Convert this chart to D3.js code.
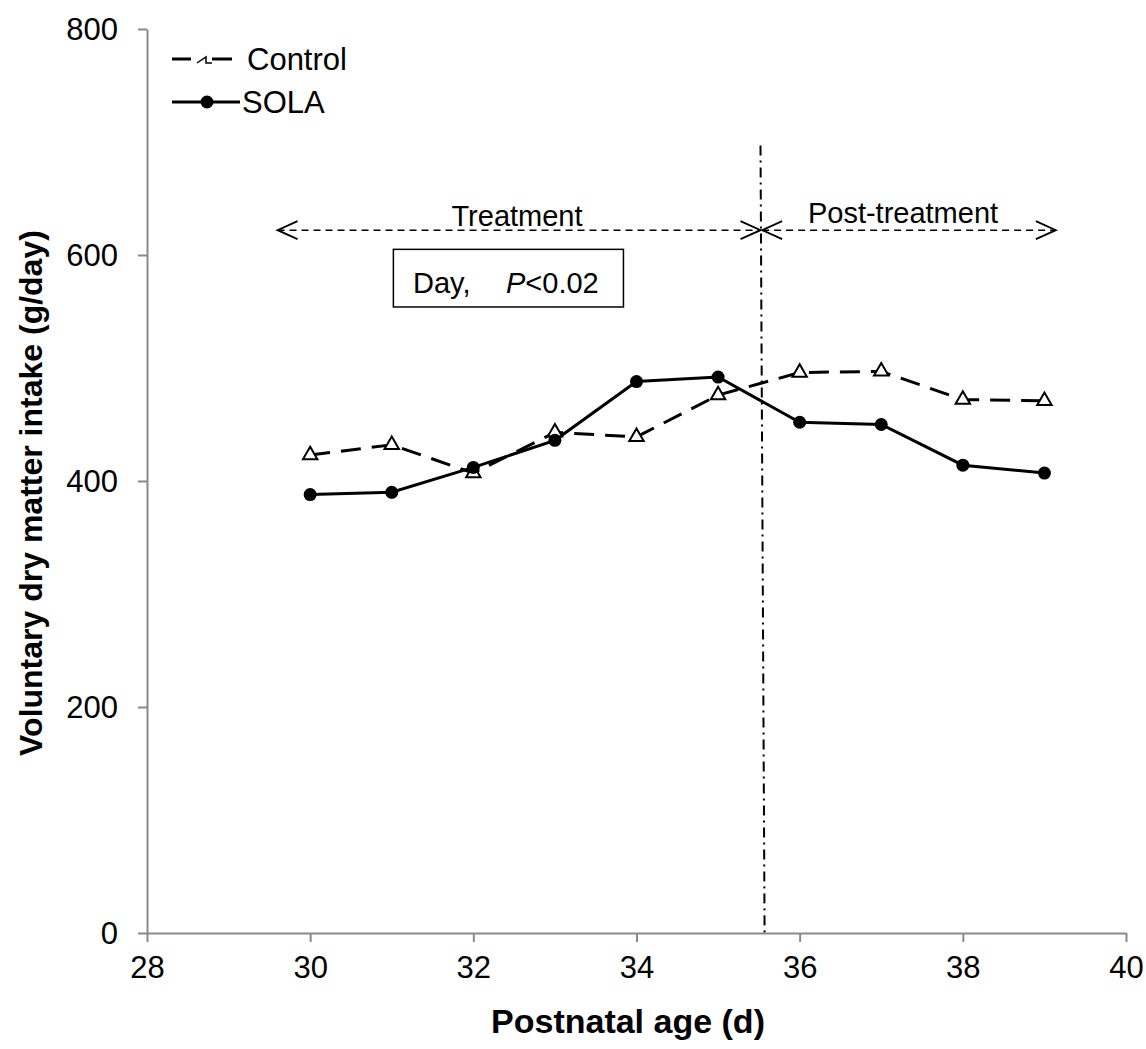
<!DOCTYPE html>
<html>
<head>
  <meta charset="utf-8">
  <script src="https://d3js.org/d3.v7.min.js"></script>
  <style>
  body { margin:0; background:#fff; }
  text { font-family: Arial, "Liberation Sans", sans-serif; fill:#000; }
  .axis path, .axis line { stroke:#898989; stroke-width:2px; }
  .axis text { font-size:31px; }
  .title { font-weight:bold; }
</style>
</head>
<body>
<script>

  // data
  var days = [30, 31, 32, 33, 34, 35, 36, 37, 38, 39];
  var control = [423, 432, 407, 443, 439, 476, 496, 497, 472, 471];
  var sola = [388, 390, 412, 436, 488, 492, 452, 450, 414, 407];
  var xTicks = [28, 30, 32, 34, 36, 38, 40];
  var yTicks = [0, 200, 400, 600, 800];

  var W = 1146, H = 1049;
  var svg = d3.select("body").append("svg")
    .attr("width", W)
    .attr("height", H);

  var x = d3.scaleLinear().domain([28, 40]).range([147, 1126]);
  var y = d3.scaleLinear().domain([0, 800]).range([933, 29]);

  var xAxis = d3.axisBottom(x).tickValues(xTicks).tickSize(9).tickSizeOuter(0).tickPadding(14);
  var yAxis = d3.axisLeft(y).tickValues(yTicks).tickSize(9).tickSizeOuter(0).tickPadding(20);

  svg.append("g")
    .attr("class", "x axis")
    .attr("transform", "translate(0," + y(0) + ")")
    .call(xAxis);

  svg.append("g")
    .attr("class", "y axis")
    .attr("transform", "translate(" + x(28) + ",0)")
    .call(yAxis)
    .selectAll("text").attr("dy", "0.35em");

  // axis titles
  svg.append("text")
    .attr("class", "title")
    .attr("x", 628).attr("y", 1033)
    .attr("text-anchor", "middle")
    .style("font-size", "34px")
    .text("Postnatal age (d)");

  svg.append("text")
    .attr("class", "title")
    .attr("transform", "translate(42,493) rotate(-90)")
    .attr("text-anchor", "middle")
    .style("font-size", "32px")
    .text("Voluntary dry matter intake (g/day)");

  // treatment boundary (dash-dot)
  svg.append("line")
    .attr("x1", x(35.52)).attr("y1", y(697))
    .attr("x2", x(35.57)).attr("y2", y(0))
    .attr("stroke", "#000").attr("stroke-width", 2)
    .attr("stroke-dasharray", "10,5,2,5");

  // period arrows
  var arrowY = y(622);
  function arrow(a, b) {
    var xa = x(a), xb = x(b);
    svg.append("line")
      .attr("x1", xa).attr("y1", arrowY).attr("x2", xb).attr("y2", arrowY)
      .attr("stroke", "#000").attr("stroke-width", 1.5)
      .attr("stroke-dasharray", "7,5");
    [[xa, 1], [xb, -1]].forEach(function(p) {
      svg.append("path")
        .attr("d", "M" + (p[0] + p[1] * 20) + "," + (arrowY - 9) + "L" + p[0] + "," + arrowY +
          "L" + (p[0] + p[1] * 20) + "," + (arrowY + 9))
        .attr("fill", "none").attr("stroke", "#000").attr("stroke-width", 1.8);
    });
  }
  arrow(29.6, 35.52);
  arrow(35.54, 39.14);

  svg.append("text").attr("x", 517).attr("y", 226).attr("text-anchor", "middle")
    .style("font-size", "29px").text("Treatment");
  svg.append("text").attr("x", 903).attr("y", 223).attr("text-anchor", "middle")
    .style("font-size", "29px").text("Post-treatment");

  // stats box
  svg.append("rect")
    .attr("x", x(31.02)).attr("y", y(605))
    .attr("width", x(33.84) - x(31.02)).attr("height", y(554) - y(605))
    .attr("fill", "#fff").attr("stroke", "#000").attr("stroke-width", 1.5);
  var box = svg.append("text").attr("x", 413).attr("y", 293).style("font-size", "29px");
  box.append("tspan").text("Day,");
  box.append("tspan").attr("x", 506).style("font-style", "italic").text("P");
  box.append("tspan").text("<0.02");

  var line = d3.line()
    .x(function(d) { return x(d[0]); })
    .y(function(d) { return y(d[1]); });

  var ctl = days.map(function(d, i) { return [d, control[i]]; });
  var sol = days.map(function(d, i) { return [d, sola[i]]; });

  svg.append("path")
    .datum(ctl)
    .attr("d", line)
    .attr("fill", "none").attr("stroke", "#000").attr("stroke-width", 3)
    .attr("stroke-dasharray", "20,11");

  svg.append("path")
    .datum(sol)
    .attr("d", line)
    .attr("fill", "none").attr("stroke", "#000").attr("stroke-width", 3);

  var tri = d3.symbol().type(d3.symbolTriangle).size(90);

  svg.selectAll(".tri")
    .data(ctl)
    .enter().append("path")
    .attr("class", "tri")
    .attr("d", tri)
    .attr("transform", function(d) { return "translate(" + x(d[0]) + "," + y(d[1]) + ")"; })
    .attr("fill", "#fff").attr("stroke", "#000").attr("stroke-width", 2);

  svg.selectAll(".dot")
    .data(sol)
    .enter().append("circle")
    .attr("class", "dot")
    .attr("cx", function(d) { return x(d[0]); })
    .attr("cy", function(d) { return y(d[1]); })
    .attr("r", 6.5)
    .attr("fill", "#000");

  // legend
  var lg = svg.append("g");
  lg.append("line").attr("x1", 172).attr("y1", 59).attr("x2", 191).attr("y2", 59)
    .attr("stroke", "#000").attr("stroke-width", 3);
  lg.append("line").attr("x1", 212).attr("y1", 59).attr("x2", 232).attr("y2", 59)
    .attr("stroke", "#000").attr("stroke-width", 3);
  lg.append("path").attr("d", "M197,63L206,57L206,63L212,63")
    .attr("fill", "none").attr("stroke", "#000").attr("stroke-width", 1.5);
  lg.append("text").attr("x", 247).attr("y", 70).style("font-size", "31px").text("Control");

  lg.append("line").attr("x1", 172).attr("y1", 102).attr("x2", 240).attr("y2", 102)
    .attr("stroke", "#000").attr("stroke-width", 3);
  lg.append("circle").attr("cx", 207).attr("cy", 102).attr("r", 6.5).attr("fill", "#000");
  lg.append("text").attr("x", 242).attr("y", 113).style("font-size", "31px").text("SOLA");

</script>
</body>
</html>
